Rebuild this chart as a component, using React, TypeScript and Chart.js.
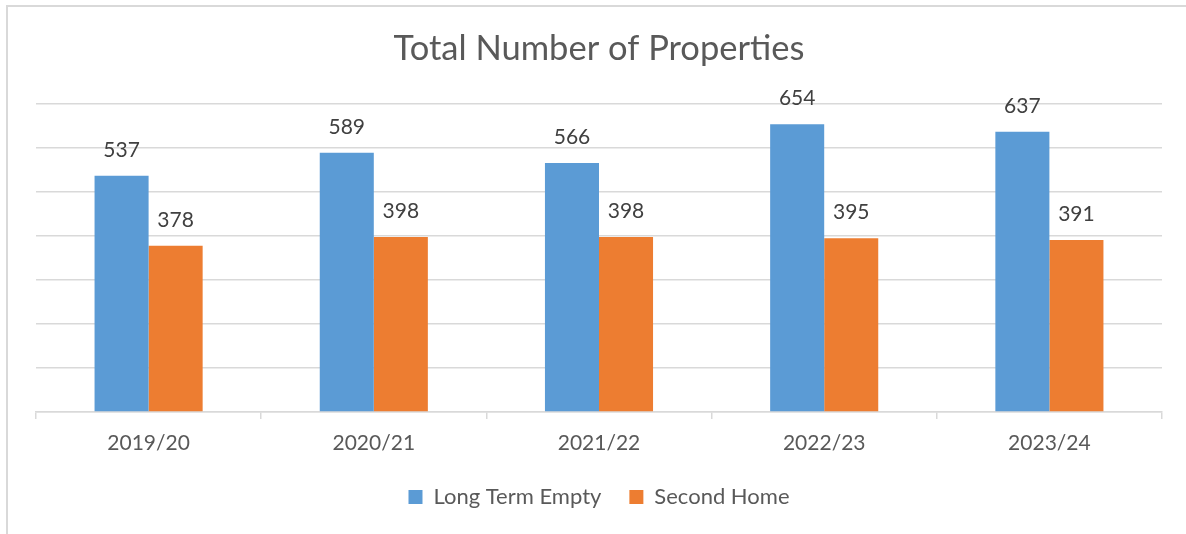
import React, { useEffect, useRef } from "react";
import { Chart, registerables } from "chart.js";

Chart.register(...registerables);

const categories = ["2019/20", "2020/21", "2021/22", "2022/23", "2023/24"];
const longTermEmpty = [537, 589, 566, 654, 637];
const secondHome = [378, 398, 398, 395, 391];
const seriesNames = ["Long Term Empty", "Second Home"];
const titleText = "Total Number of Properties";

const FONT = "Lato, 'Open Sans', sans-serif";

const borderPlugin = {
  id: "outerBorder",
  beforeDraw(chart: any) {
    const ctx = chart.ctx;
    ctx.save();
    ctx.fillStyle = "#ffffff";
    ctx.fillRect(0, 0, chart.width, chart.height);
    ctx.strokeStyle = "#d9d9d9";
    ctx.lineWidth = 2;
    ctx.beginPath();
    ctx.moveTo(7, chart.height + 5);
    ctx.lineTo(7, 6);
    ctx.lineTo(chart.width + 5, 6);
    ctx.stroke();
    ctx.restore();
  },
};

const labelPlugin = {
  id: "barLabels",
  afterDatasetsDraw(chart: any) {
    const ctx = chart.ctx;
    ctx.save();
    ctx.font = `21px ${FONT}`;
    ctx.fillStyle = "#404040";
    ctx.textAlign = "center";
    ctx.textBaseline = "alphabetic";
    chart.data.datasets.forEach((ds: any, i: number) => {
      const meta = chart.getDatasetMeta(i);
      meta.data.forEach((bar: any, j: number) => {
        ctx.fillText(String(ds.data[j]), bar.x, bar.y - 19);
      });
    });
    ctx.restore();
  },
};

export default function App() {
  const ref = useRef<HTMLCanvasElement | null>(null);
  useEffect(() => {
    if (!ref.current) return;
    const chart = new Chart(ref.current, {
      type: "bar",
      data: {
        labels: categories,
        datasets: [
          {
            label: seriesNames[0],
            data: longTermEmpty,
            backgroundColor: "#5B9BD5",
            categoryPercentage: 0.48,
            barPercentage: 1,
          },
          {
            label: seriesNames[1],
            data: secondHome,
            backgroundColor: "#ED7D31",
            categoryPercentage: 0.48,
            barPercentage: 1,
          },
        ],
      },
      options: {
        responsive: false,
        animation: false,
        layout: { padding: { left: 36, right: 24, top: 0, bottom: 16 } },
        plugins: {
          title: {
            display: true,
            text: titleText,
            color: "#595959",
            font: { family: FONT, size: 34.5, weight: "normal" },
            padding: { top: 28.3, bottom: 34.3 },
          },
          legend: {
            position: "bottom",
            labels: {
              boxWidth: 14,
              boxHeight: 14,
              padding: 28,
              color: "#595959",
              font: { family: FONT, size: 22 },
            },
          },
          tooltip: { enabled: false },
        },
        scales: {
          x: {
            grid: {
              drawOnChartArea: false,
              drawTicks: true,
              tickLength: 7,
              color: "#d9d9d9",
              lineWidth: 1.5,
            },
            border: { display: true, color: "#d9d9d9", width: 1.5 },
            ticks: {
              color: "#595959",
              font: { family: FONT, size: 21 },
              padding: 12,
            },
            afterFit: (s: any) => {
              s.height = 46;
            },
          },
          y: {
            min: 0,
            max: 700,
            ticks: { display: false, stepSize: 100 },
            grid: { color: "#d9d9d9", lineWidth: 1.5, drawTicks: false },
            border: { display: false },
            afterFit: (s: any) => {
              s.width = 0;
            },
          },
        },
      },
      plugins: [borderPlugin, labelPlugin],
    });
    return () => chart.destroy();
  }, []);
  return (
    <div style={{ position: "fixed", left: 0, top: 0, width: 1186, height: 534, background: "#fff" }}>
      <canvas ref={ref} width={1186} height={534} style={{ display: "block" }} />
    </div>
  );
}
